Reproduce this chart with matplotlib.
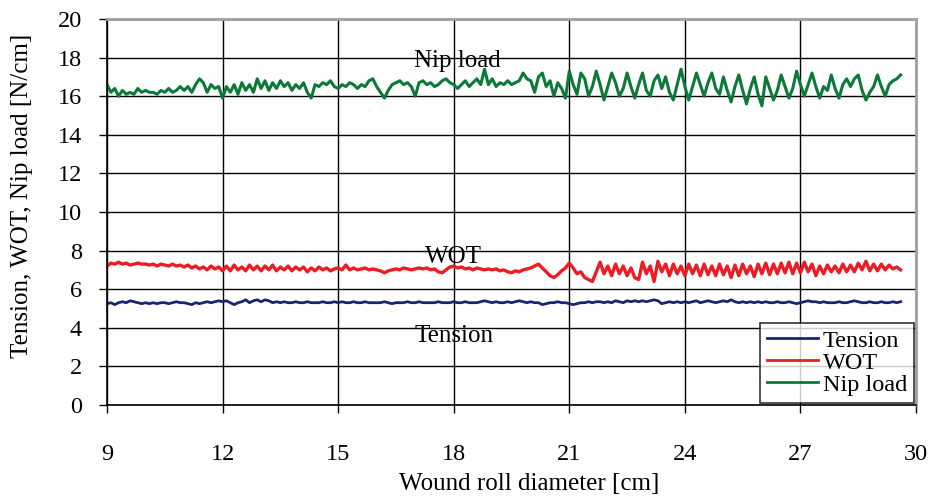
import numpy as np
import matplotlib
matplotlib.use("Agg")
import matplotlib.pyplot as plt

# wound roll diameter samples [cm], one every 0.1 cm
diameter = np.round(np.arange(9.0, 29.65, 0.1), 1)

tension = [
    5.25, 5.3, 5.2, 5.3, 5.35, 5.3, 5.4, 5.35, 5.3, 5.25,
    5.3, 5.25, 5.3, 5.25, 5.3, 5.3, 5.25, 5.3, 5.35, 5.3,
    5.3, 5.25, 5.2, 5.3, 5.25, 5.3, 5.35, 5.3, 5.35, 5.4,
    5.35, 5.4, 5.3, 5.2, 5.3, 5.35, 5.45, 5.3, 5.4, 5.45,
    5.35, 5.45, 5.4, 5.3, 5.35, 5.3, 5.35, 5.3, 5.3, 5.35,
    5.3, 5.3, 5.35, 5.3, 5.3, 5.3, 5.35, 5.3, 5.3, 5.35,
    5.3, 5.35, 5.3, 5.3, 5.35, 5.3, 5.3, 5.35, 5.3, 5.3,
    5.3, 5.3, 5.35, 5.3, 5.25, 5.3, 5.3, 5.3, 5.35, 5.3,
    5.3, 5.35, 5.3, 5.3, 5.3, 5.3, 5.35, 5.3, 5.3, 5.3,
    5.35, 5.3, 5.3, 5.35, 5.3, 5.3, 5.3, 5.35, 5.4, 5.35,
    5.3, 5.35, 5.3, 5.3, 5.35, 5.3, 5.35, 5.4, 5.35, 5.3,
    5.35, 5.3, 5.3, 5.2, 5.25, 5.3, 5.3, 5.35, 5.3, 5.3,
    5.25, 5.2, 5.25, 5.3, 5.3, 5.35, 5.3, 5.35, 5.35, 5.3,
    5.35, 5.3, 5.4, 5.35, 5.3, 5.4, 5.35, 5.4, 5.35, 5.4,
    5.35, 5.4, 5.45, 5.4, 5.25, 5.3, 5.35, 5.3, 5.35, 5.3,
    5.35, 5.3, 5.35, 5.4, 5.3, 5.35, 5.4, 5.35, 5.3, 5.35,
    5.4, 5.35, 5.45, 5.35, 5.3, 5.35, 5.3, 5.35, 5.3, 5.35,
    5.3, 5.35, 5.3, 5.3, 5.35, 5.3, 5.3, 5.35, 5.3, 5.25,
    5.3, 5.35, 5.4, 5.35, 5.35, 5.3, 5.35, 5.3, 5.3, 5.3,
    5.35, 5.3, 5.3, 5.35, 5.4, 5.35, 5.3, 5.3, 5.35, 5.3,
    5.3, 5.35, 5.3, 5.3, 5.35, 5.3, 5.35,
]

wot = [
    7.2, 7.35, 7.3, 7.4, 7.3, 7.35, 7.25, 7.3, 7.35, 7.3,
    7.3, 7.25, 7.3, 7.2, 7.3, 7.25, 7.2, 7.3, 7.2, 7.25,
    7.15, 7.25, 7.1, 7.2, 7.05, 7.15, 7.0, 7.2, 7.05, 7.15,
    6.95, 7.2, 6.95, 7.25, 7.0, 7.15, 6.95, 7.25, 7.0, 7.2,
    6.95, 7.2, 7.0, 7.25, 6.95, 7.15, 7.0, 7.2, 6.95, 7.15,
    7.0, 7.15, 6.9, 7.1, 6.95, 7.15, 7.0, 7.1, 6.95, 7.05,
    7.1, 7.0, 7.25, 7.0, 7.1, 7.0, 7.05, 7.1, 7.0, 7.05,
    7.0, 6.95, 6.85, 6.95, 7.0, 7.05, 7.0, 7.1, 7.05, 7.0,
    7.05, 7.1, 7.05, 7.1, 7.0, 7.05, 6.9, 6.85, 7.0, 7.15,
    7.2, 7.1, 7.15, 7.05, 7.1, 7.0, 7.1, 7.05, 7.0, 7.05,
    7.0, 7.05, 6.95, 7.0, 6.9, 6.85, 6.95, 6.9, 7.0, 7.05,
    7.1, 7.2, 7.3, 7.1, 6.9, 6.7, 6.6, 6.75, 6.95, 7.1,
    7.35, 7.1, 6.8, 6.9, 6.6, 6.5, 6.4, 6.9, 7.4, 6.8,
    7.2, 6.7, 7.3, 6.8, 7.2, 6.7, 7.1, 6.6, 6.5, 7.4,
    6.8, 7.2, 6.4, 7.45, 6.9, 7.3, 6.7, 7.3, 6.8, 7.2,
    6.7, 7.3, 6.8, 7.25, 6.7, 7.3, 6.75, 7.2, 6.7, 7.3,
    6.75, 7.2, 6.6, 7.25, 6.7, 7.3, 6.8, 7.2, 6.65, 7.3,
    6.8, 7.35, 6.75, 7.3, 6.8, 7.35, 6.85, 7.4, 6.8, 7.35,
    6.85, 7.4, 6.9, 7.3, 6.7, 7.2, 6.8, 7.25, 6.9, 7.2,
    6.85, 7.3, 6.9, 7.25, 6.9, 7.35, 7.0, 7.45, 6.95, 7.3,
    6.95, 7.3, 7.0, 7.25, 7.05, 7.15, 7.0,
]

nip_load = [
    16.6, 16.2, 16.4, 16.0, 16.3, 16.1, 16.2, 16.1, 16.4, 16.2,
    16.3, 16.2, 16.2, 16.1, 16.3, 16.2, 16.4, 16.2, 16.3, 16.5,
    16.3, 16.5, 16.2, 16.6, 16.9, 16.7, 16.2, 16.6, 16.4, 16.5,
    15.9, 16.5, 16.2, 16.6, 16.1, 16.7, 16.3, 16.6, 16.2, 16.9,
    16.4, 16.8, 16.3, 16.7, 16.4, 16.8, 16.5, 16.7, 16.3, 16.6,
    16.4, 16.7, 16.2, 15.9, 16.6, 16.5, 16.7, 16.6, 16.8, 16.5,
    16.4, 16.6, 16.5, 16.7, 16.6, 16.4, 16.6, 16.5, 16.8, 16.9,
    16.5, 16.2, 15.9, 16.3, 16.6, 16.7, 16.8, 16.6, 16.7, 16.5,
    16.0, 16.7, 16.8, 16.6, 16.7, 16.5, 16.6, 16.8, 16.9, 16.7,
    16.6, 16.4, 16.6, 16.8, 16.5, 16.7, 16.9, 16.6, 17.4, 16.6,
    16.9, 16.5, 16.7, 16.6, 16.8, 16.6, 16.7, 16.8, 17.2, 16.9,
    16.8, 16.2, 17.0, 17.2, 16.5, 16.8, 16.0, 16.7, 16.4, 15.9,
    17.3, 16.6, 16.1, 17.2, 16.9, 16.0, 16.5, 17.3, 16.6, 15.8,
    16.5, 17.2, 16.7, 16.0, 16.4, 17.2, 16.5, 15.9, 16.6, 17.2,
    16.3, 16.0, 16.8, 17.1, 16.4, 17.0, 16.2, 15.8, 16.6, 17.4,
    16.5, 15.8, 16.5, 17.2, 16.6, 16.0, 16.7, 17.2, 16.4, 16.1,
    17.0, 16.3, 15.7, 16.5, 17.1, 16.3, 15.6, 16.4, 17.0, 16.1,
    15.5, 17.0, 16.4, 15.8, 16.3, 17.1, 16.5, 15.9, 16.4, 17.3,
    16.6, 16.0, 16.6, 17.2, 16.5, 15.9, 16.5, 16.3, 17.1, 16.4,
    15.9, 16.6, 16.9, 16.5, 16.9, 17.1, 16.3, 15.8, 16.2, 16.5,
    17.1, 16.5, 16.0, 16.6, 16.8, 16.9, 17.1,
]

x_ticks = [9, 12, 15, 18, 21, 24, 27, 30]
y_ticks = list(range(0, 21, 2))

plt.rcParams["font.family"] = ["Liberation Serif", "DejaVu Serif"]

fig = plt.figure(figsize=(9.33, 4.96), dpi=100)
ax = fig.add_axes([0.1147, 0.1835, 0.8671, 0.7782])

ax.plot(diameter, tension, color="#1c2470", lw=2.0, label="Tension")
ax.plot(diameter, wot, color="#ec1c24", lw=2.4, label="WOT")
ax.plot(diameter, nip_load, color="#0b7a38", lw=2.2, label="Nip load")

ax.set_xlim(9, 30)
ax.set_ylim(0, 20)
ax.set_xticks(x_ticks)
ax.set_yticks(y_ticks)
ax.grid(True, color="black", lw=1.0)
ax.set_axisbelow(True)

for side in ("top", "right"):
    ax.spines[side].set_color("#a0a0a0")
    ax.spines[side].set_linewidth(2)
for side in ("left", "bottom"):
    ax.spines[side].set_color("black")
    ax.spines[side].set_linewidth(1.2)

ax.tick_params(axis="both", direction="out", length=6, width=1, labelsize=17.5)
ax.tick_params(axis="x", pad=22)
ax.tick_params(axis="y", pad=12)

ax.set_xlabel("Wound roll diameter [cm]", fontsize=18)
ax.xaxis.set_label_coords(0.522, -0.205)
ax.xaxis.label.set_va("center")
ax.set_ylabel("Tension, WOT, Nip load [N/cm]", fontsize=18)
ax.yaxis.set_label_coords(-0.105, 0.541)
ax.yaxis.label.set_va("center")

ax.text(18.1, 17.8, "Nip load", fontsize=18, ha="center", va="center")
ax.text(18.0, 7.65, "WOT", fontsize=18, ha="center", va="center")
ax.text(18.0, 3.6, "Tension", fontsize=18, ha="center", va="center")

leg = ax.legend(loc="lower right", fontsize=17.5, frameon=True, fancybox=False,
                borderaxespad=0.1, handlelength=2.1, handletextpad=0.18,
                labelspacing=0.0, borderpad=0.28)
leg.get_frame().set_edgecolor("black")
leg.get_frame().set_linewidth(1.2)
for line in leg.get_lines():
    line.set_linewidth(2)

fig.savefig("out.png", dpi=100)
